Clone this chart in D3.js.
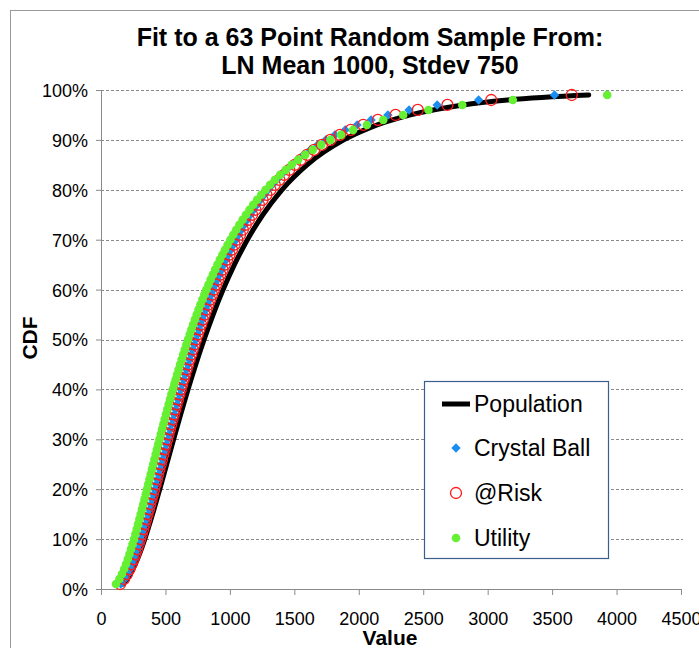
<!DOCTYPE html>
<html>
<head>
<meta charset="utf-8">
<script src="https://cdn.jsdelivr.net/npm/d3@7"></script>
<style>
  body { margin: 0; background: #fff; }
  svg { display: block; font-family: "Liberation Sans", Arial, sans-serif; }
</style>
</head>
<body>
<script>
//Data----------------------------------------------------------------------------------------
var title = ["Fit to a 63 Point Random Sample From:", "LN Mean 1000, Stdev 750"];
var xTicks = [0, 500, 1000, 1500, 2000, 2500, 3000, 3500, 4000, 4500];
var yTicks = [0, 0.1, 0.2, 0.3, 0.4, 0.5, 0.6, 0.7, 0.8, 0.9, 1.0];
var seriesNames = ["Population", "Crystal Ball", "@Risk", "Utility"];

// population curve (cdf level -> value)
var popCdf = [0.01, 0.02, 0.03, 0.05, 0.075, 0.10, 0.15, 0.20, 0.25, 0.30, 0.35, 0.40, 0.45, 0.50,
  0.55, 0.60, 0.65, 0.70, 0.75, 0.80, 0.85, 0.90, 0.925, 0.95, 0.97, 0.98, 0.99];
var popValue = [169.1, 202.9, 227.7, 266.6, 305.8, 339.8, 400.3, 455.9, 509.7, 563.4, 618.3, 675.3, 735.4, 800.0,
  870.1, 947.5, 1034.9, 1135.6, 1255.5, 1403.7, 1598.7, 1883.3, 2092.9, 2400.6, 2810.5, 3154.6, 3784.6];

// fitted percentiles, 1% .. 99%
var fitCdf = [0.01, 0.02, 0.03, 0.04, 0.05, 0.06, 0.07, 0.08, 0.09, 0.10,
  0.11, 0.12, 0.13, 0.14, 0.15, 0.16, 0.17, 0.18, 0.19, 0.20,
  0.21, 0.22, 0.23, 0.24, 0.25, 0.26, 0.27, 0.28, 0.29, 0.30,
  0.31, 0.32, 0.33, 0.34, 0.35, 0.36, 0.37, 0.38, 0.39, 0.40,
  0.41, 0.42, 0.43, 0.44, 0.45, 0.46, 0.47, 0.48, 0.49, 0.50,
  0.51, 0.52, 0.53, 0.54, 0.55, 0.56, 0.57, 0.58, 0.59, 0.60,
  0.61, 0.62, 0.63, 0.64, 0.65, 0.66, 0.67, 0.68, 0.69, 0.70,
  0.71, 0.72, 0.73, 0.74, 0.75, 0.76, 0.77, 0.78, 0.79, 0.80,
  0.81, 0.82, 0.83, 0.84, 0.85, 0.86, 0.87, 0.88, 0.89, 0.90,
  0.91, 0.92, 0.93, 0.94, 0.95, 0.96, 0.97, 0.98, 0.99];

var crystalBall = [154.4, 185.4, 208.2, 227.3, 244.0, 259.2, 273.4, 286.7, 299.3, 311.5,
  323.2, 334.6, 345.7, 356.6, 367.3, 377.8, 388.2, 398.4, 408.6, 418.6,
  428.7, 438.6, 448.6, 458.5, 468.4, 478.3, 488.2, 498.2, 508.1, 518.1,
  528.1, 538.2, 548.4, 558.6, 568.9, 579.2, 589.7, 600.2, 610.9, 621.6,
  632.5, 643.5, 654.6, 665.9, 677.3, 688.9, 700.6, 712.6, 724.7, 737.0,
  749.5, 762.3, 775.2, 788.5, 801.9, 815.7, 829.7, 844.1, 858.8, 873.8,
  889.2, 904.9, 921.1, 937.7, 954.8, 972.4, 990.5, 1009.2, 1028.4, 1048.4,
  1069.0, 1090.3, 1112.5, 1135.6, 1159.6, 1184.7, 1210.9, 1238.3, 1267.1, 1297.4,
  1329.5, 1363.4, 1399.4, 1437.8, 1478.9, 1523.2, 1571.1, 1623.2, 1680.5, 1743.7,
  1814.5, 1894.7, 1986.9, 2095.2, 2225.9, 2390.0, 2608.4, 2929.9, 3518.9];

var atRisk = [148.7, 179.4, 202.1, 221.0, 237.7, 252.9, 267.0, 280.3, 293.0, 305.2,
  316.9, 328.4, 339.6, 350.5, 361.2, 371.8, 382.3, 392.6, 402.9, 413.0,
  423.2, 433.2, 443.3, 453.3, 463.4, 473.4, 483.5, 493.5, 503.6, 513.8,
  524.0, 534.2, 544.5, 554.9, 565.4, 575.9, 586.6, 597.3, 608.1, 619.1,
  630.2, 641.4, 652.8, 664.3, 676.0, 687.8, 699.8, 712.0, 724.4, 737.0,
  749.8, 762.9, 776.2, 789.7, 803.6, 817.7, 832.1, 846.8, 861.9, 877.3,
  893.2, 909.4, 926.0, 943.1, 960.7, 978.8, 997.5, 1016.7, 1036.6, 1057.2,
  1078.5, 1100.6, 1123.5, 1147.3, 1172.2, 1198.1, 1225.3, 1253.7, 1283.6, 1315.0,
  1348.3, 1383.5, 1420.9, 1460.9, 1503.6, 1549.7, 1599.7, 1654.0, 1713.7, 1779.9,
  1853.9, 1937.7, 2034.3, 2147.9, 2285.3, 2457.9, 2688.0, 3027.7, 3652.3];

var utility = [116.0, 142.6, 162.5, 179.4, 194.3, 208.0, 220.9, 233.0, 244.6, 255.8,
  266.7, 277.3, 287.7, 297.9, 308.0, 318.0, 327.8, 337.6, 347.3, 356.9,
  366.6, 376.2, 385.8, 395.5, 405.1, 414.8, 424.5, 434.2, 444.0, 453.8,
  463.8, 473.7, 483.8, 494.0, 504.2, 514.6, 525.1, 535.6, 546.4, 557.2,
  568.2, 579.3, 590.6, 602.1, 613.8, 625.6, 637.6, 649.9, 662.3, 675.0,
  687.9, 701.1, 714.6, 728.3, 742.4, 756.7, 771.4, 786.5, 801.9, 817.7,
  833.9, 850.6, 867.8, 885.4, 903.6, 922.4, 941.7, 961.8, 982.5, 1003.9,
  1026.2, 1049.3, 1073.4, 1098.5, 1124.7, 1152.1, 1180.9, 1211.1, 1242.9, 1276.4,
  1312.0, 1349.7, 1390.0, 1433.0, 1479.2, 1529.2, 1583.5, 1642.8, 1708.2, 1780.8,
  1862.5, 1955.4, 2062.9, 2190.0, 2344.6, 2540.2, 2803.1, 3195.2, 3927.5];

//Layout--------------------------------------------------------------------------------------
var width = 699;
var height = 648;
var plotLeft = 101, plotRight = 681, plotTop = 90, plotBottom = 589;

var blue = "#1a8ff0";
var red = "#ff1a1a";
var green = "#66f033";

var svg = d3.select("body").append("svg")
  .attr("width", width)
  .attr("height", height);

// chart area border
svg.append("rect")
  .attr("x", 10.5).attr("y", 10.5)
  .attr("width", width + 10).attr("height", height + 10)
  .attr("fill", "#fff")
  .attr("stroke", "#9a9a9a");

var x = d3.scaleLinear().domain([0, 4500]).range([plotLeft, plotRight]);
var y = d3.scaleLinear().domain([0, 1]).range([plotBottom, plotTop]);

//Title---------------------------------------------------------------------------------------
svg.selectAll(".title")
  .data(title)
  .enter().append("text")
  .attr("class", "title")
  .attr("x", 370)
  .attr("y", function(d, i) { return 46 + i * 28; })
  .attr("text-anchor", "middle")
  .style("font-size", "25px").style("font-weight", "bold")
  .text(function(d) { return d; });

//Gridlines-----------------------------------------------------------------------------------
svg.append("g")
  .selectAll("line")
  .data(yTicks.filter(function(d) { return d > 0; }))
  .enter().append("line")
  .attr("x1", plotLeft).attr("x2", plotRight + 2)
  .attr("y1", function(d) { return Math.round(y(d)) + 0.5; })
  .attr("y2", function(d) { return Math.round(y(d)) + 0.5; })
  .attr("stroke", "#8a8a8a")
  .attr("stroke-dasharray", "3,2");

//Axes----------------------------------------------------------------------------------------
var xAxis = svg.append("g")
  .attr("transform", "translate(0," + plotBottom + ")")
  .call(d3.axisBottom(x).tickValues(xTicks).tickSize(6).tickPadding(17).tickFormat(d3.format("d")));

var yAxis = svg.append("g")
  .attr("transform", "translate(" + plotLeft + ",0)")
  .call(d3.axisLeft(y).tickValues(yTicks).tickSize(5).tickPadding(8).tickFormat(d3.format(".0%")));

[xAxis, yAxis].forEach(function(a) {
  a.select(".domain").attr("stroke", "#8a8a8a");
  a.selectAll(".tick line").attr("stroke", "#8a8a8a");
  a.selectAll(".tick text")
    .attr("fill", "#000")
    .style("font-size", "18px")
    .style("font-family", "'Liberation Sans', Arial, sans-serif");
});
yAxis.selectAll(".tick text").attr("dy", "0.36em");

svg.append("text")
  .attr("x", 390).attr("y", 645)
  .attr("text-anchor", "middle")
  .style("font-size", "21px").style("font-weight", "bold")
  .text("Value");

svg.append("text")
  .attr("transform", "translate(37,338) rotate(-90)")
  .attr("text-anchor", "middle")
  .style("font-size", "21px").style("font-weight", "bold")
  .text("CDF");

//Series--------------------------------------------------------------------------------------
var popLine = d3.line()
  .x(function(d, i) { return x(popValue[i]); })
  .y(function(d, i) { return y(popCdf[i]); })
  .curve(d3.curveMonotoneX);

svg.append("path")
  .datum(popCdf)
  .attr("d", popLine)
  .attr("fill", "none")
  .attr("stroke", "#000")
  .attr("stroke-width", 5)
  .attr("stroke-linecap", "round");

// square turned 45 degrees, like the excel diamond marker
var diamond = d3.symbol().type(d3.symbolSquare).size(44);

svg.append("g")
  .selectAll("path")
  .data(crystalBall)
  .enter().append("path")
  .attr("d", diamond)
  .attr("transform", function(d, i) { return "translate(" + x(d) + "," + y(fitCdf[i]) + ") rotate(45)"; })
  .attr("fill", blue);

svg.append("g")
  .selectAll("circle")
  .data(atRisk)
  .enter().append("circle")
  .attr("cx", function(d) { return x(d); })
  .attr("cy", function(d, i) { return y(fitCdf[i]); })
  .attr("r", 5.5)
  .attr("fill", "none")
  .attr("stroke", red)
  .attr("stroke-width", 1.3);

svg.append("g")
  .selectAll("circle")
  .data(utility)
  .enter().append("circle")
  .attr("cx", function(d) { return x(d); })
  .attr("cy", function(d, i) { return y(fitCdf[i]); })
  .attr("r", 4.3)
  .attr("fill", green);

//Legend--------------------------------------------------------------------------------------
var legend = svg.append("g");
legend.append("rect")
  .attr("x", 424.5).attr("y", 381.5)
  .attr("width", 184).attr("height", 177)
  .attr("fill", "#fff")
  .attr("stroke", "#3b5f8c")
  .attr("stroke-width", 1.2);

var legendY = [404, 448, 493, 538];

legend.append("line")
  .attr("x1", 442).attr("x2", 470)
  .attr("y1", legendY[0]).attr("y2", legendY[0])
  .attr("stroke", "#000").attr("stroke-width", 5);
legend.append("path")
  .attr("d", diamond)
  .attr("transform", "translate(456," + legendY[1] + ") rotate(45)")
  .attr("fill", blue);
legend.append("circle")
  .attr("cx", 456).attr("cy", legendY[2]).attr("r", 5.5)
  .attr("fill", "none").attr("stroke", red).attr("stroke-width", 1.3);
legend.append("circle")
  .attr("cx", 456).attr("cy", legendY[3]).attr("r", 4.3)
  .attr("fill", green);

legend.selectAll("text")
  .data(seriesNames)
  .enter().append("text")
  .attr("x", 474)
  .attr("y", function(d, i) { return legendY[i]; })
  .attr("dy", "0.36em")
  .style("font-size", "23px")
  .text(function(d) { return d; });
</script>
</body>
</html>
